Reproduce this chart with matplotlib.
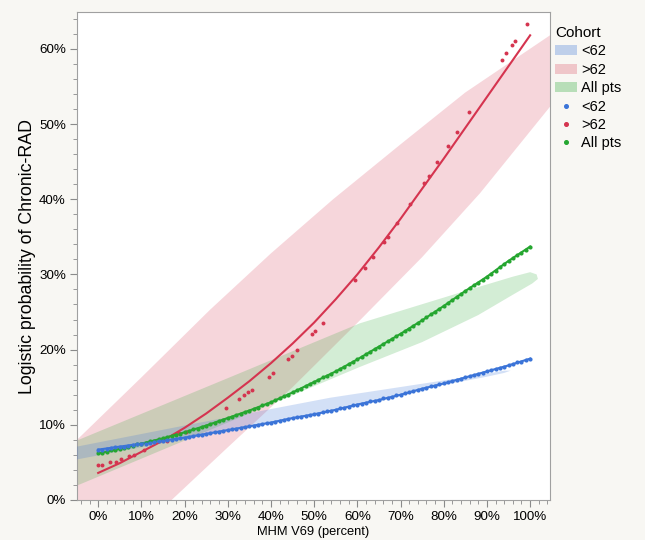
import matplotlib
matplotlib.use("Agg")
import matplotlib.pyplot as plt
from matplotlib.patches import Patch, Rectangle
from matplotlib.lines import Line2D
from matplotlib.ticker import MultipleLocator, FuncFormatter

plt.rcParams["font.family"] = ["Liberation Sans", "DejaVu Sans"]

# fitted curves, read every 5% of MHM V69
fit_x = [0, 5, 10, 15, 20, 25, 30, 35, 40, 45, 50, 55, 60, 65, 70, 75, 80, 85, 90, 95, 100]
fit_lt62 = [6.7, 7.1, 7.5, 7.9, 8.3, 8.8, 9.3, 9.8, 10.3, 10.9, 11.4, 12.0, 12.7, 13.3,
            14.0, 14.8, 15.5, 16.3, 17.1, 17.9, 18.8]
fit_gt62 = [3.6, 4.9, 6.4, 7.9, 9.6, 11.5, 13.6, 15.8, 18.2, 20.8, 23.6, 26.7, 30.0, 33.6,
            37.4, 41.4, 45.4, 49.5, 53.6, 57.7, 61.8]
fit_all = [6.2, 6.8, 7.5, 8.2, 9.0, 9.9, 10.9, 11.9, 13.0, 14.3, 15.7, 17.1, 18.7, 20.4,
           22.1, 23.9, 25.8, 27.8, 29.7, 31.8, 33.7]

# patient points (<62 and all patients sit densely along their curves)
pts_x = [0, 1, 2, 3, 4, 5, 6, 7, 8, 9, 10, 11, 12, 13, 14, 15, 16, 17, 18, 19,
         20, 21, 22, 23, 24, 25, 26, 27, 28, 29, 30, 31, 32, 33, 34, 35, 36, 37, 38, 39,
         40, 41, 42, 43, 44, 45, 46, 47, 48, 49, 50, 51, 52, 53, 54, 55, 56, 57, 58, 59,
         60, 61, 62, 63, 64, 65, 66, 67, 68, 69, 70, 71, 72, 73, 74, 75, 76, 77, 78, 79,
         80, 81, 82, 83, 84, 85, 86, 87, 88, 89, 90, 91, 92, 93, 94, 95, 96, 97, 98, 99, 100]
pts_lt62 = [6.7, 6.7, 6.8, 6.9, 7.0, 7.1, 7.1, 7.2, 7.3, 7.4,
            7.5, 7.5, 7.6, 7.7, 7.8, 7.9, 8.0, 8.0, 8.1, 8.2,
            8.3, 8.4, 8.5, 8.6, 8.7, 8.8, 8.9, 9.0, 9.1, 9.2,
            9.3, 9.4, 9.5, 9.6, 9.7, 9.8, 9.9, 10.0, 10.1, 10.2,
            10.3, 10.4, 10.5, 10.7, 10.8, 10.9, 11.0, 11.1, 11.2, 11.3,
            11.4, 11.5, 11.7, 11.8, 11.9, 12.0, 12.2, 12.3, 12.4, 12.6,
            12.7, 12.8, 12.9, 13.1, 13.2, 13.3, 13.5, 13.6, 13.7, 13.9,
            14.0, 14.2, 14.3, 14.5, 14.6, 14.8, 14.9, 15.1, 15.2, 15.4,
            15.5, 15.7, 15.8, 16.0, 16.1, 16.3, 16.5, 16.6, 16.8, 16.9,
            17.1, 17.3, 17.4, 17.6, 17.7, 17.9, 18.1, 18.3, 18.4, 18.6, 18.8]
pts_all = [6.2, 6.3, 6.4, 6.6, 6.7, 6.8, 6.9, 7.1, 7.2, 7.4,
           7.5, 7.6, 7.8, 7.9, 8.1, 8.2, 8.4, 8.5, 8.7, 8.8,
           9.0, 9.2, 9.4, 9.5, 9.7, 9.9, 10.1, 10.3, 10.5, 10.7,
           10.9, 11.1, 11.3, 11.5, 11.7, 11.9, 12.1, 12.3, 12.6, 12.8,
           13.0, 13.3, 13.5, 13.8, 14.0, 14.3, 14.6, 14.8, 15.1, 15.4,
           15.7, 16.0, 16.3, 16.5, 16.8, 17.1, 17.4, 17.7, 18.1, 18.4,
           18.7, 19.0, 19.4, 19.7, 20.1, 20.4, 20.7, 21.1, 21.4, 21.8,
           22.1, 22.5, 22.8, 23.2, 23.5, 23.9, 24.3, 24.7, 25.0, 25.4,
           25.8, 26.2, 26.6, 27.0, 27.4, 27.8, 28.2, 28.6, 28.9, 29.3,
           29.7, 30.1, 30.5, 31.0, 31.4, 31.8, 32.2, 32.6, 32.9, 33.3, 33.7]
gt62_x = [0.0, 1.0, 2.8, 4.2, 5.2, 7.2, 8.4, 10.5, 15.9, 18.8, 20.3, 29.7, 32.7, 33.8, 34.6,
          35.6, 39.5, 40.5, 43.9, 44.8, 46.0, 49.4, 50.2, 52.0, 59.5, 61.8, 63.7, 66.2,
          67.2, 69.1, 72.2, 75.5, 76.5, 78.5, 80.9, 83.0, 85.8, 93.6, 94.4, 95.8, 96.4, 99.3]
gt62_y = [4.6, 4.7, 5.0, 5.1, 5.4, 5.8, 6.0, 6.6, 7.8, 8.9, 9.0, 12.2, 13.4, 14.0, 14.3,
          14.6, 16.4, 16.9, 18.8, 19.2, 19.9, 22.1, 22.5, 23.6, 29.3, 30.8, 32.3, 34.3,
          35.0, 36.8, 39.4, 42.1, 43.1, 44.9, 47.1, 49.0, 51.6, 58.5, 59.4, 60.5, 61.1, 63.3]

# density ellipse outlines (upper edge left->right, then lower edge right->left)
ell_lt62_x = [-10, -5.8, 20, 53.7, 80, 90, 94, 95.5, 94, 90, 80, 53.7, 20, -5.8, -10]
ell_lt62_y = [6.5, 7.0, 9.9, 13.6, 15.9, 16.8, 17.2, 17.2, 16.9, 16.4, 15.3, 11.7, 8.1, 5.3, 4.8]
ell_gt62_x = [-10, -5.8, 10, 25.9, 40, 54.4, 70, 85, 104.6, 112,
              112, 104.6, 88.4, 75, 60.6, 45, 30, 17, -10]
ell_gt62_y = [5.2, 7.5, 16.3, 25.3, 32.8, 40.0, 47.3, 54.2, 61.8, 64.5,
              57.5, 52.3, 40.8, 32.3, 23.9, 15.0, 7.0, 0, -14]
ell_all_x = [-10, -5.8, 30, 60.6, 85, 96, 100, 101.5, 101.8, 100.5, 96, 88, 75, 60.6, 30, -5.8, -10]
ell_all_y = [6.7, 7.7, 16.2, 23.5, 27.8, 29.7, 30.3, 30.0, 29.4, 28.8, 27.3, 24.6, 21.0, 17.7, 10.3, 1.7, 0.7]

blue = "#3b74d8"
red = "#d5344f"
green = "#25a630"
bg = "#f8f7f3"

fig = plt.figure(figsize=(6.45, 5.48), dpi=100)
fig.patch.set_facecolor("white")
fig.patches.append(Rectangle((0, 8 / 548), 1, 1, transform=fig.transFigure,
                             facecolor=bg, edgecolor="none", zorder=-10))
ax = fig.add_axes([77 / 645, 48 / 548, 473 / 645, 488 / 548])
ax.set_facecolor("white")

ax.fill(ell_gt62_x, ell_gt62_y, color=red, alpha=0.2, lw=0, zorder=1)
ax.fill(ell_all_x, ell_all_y, color=green, alpha=0.2, lw=0, zorder=2)
ax.fill(ell_lt62_x, ell_lt62_y, color=blue, alpha=0.22, lw=0, zorder=3)

ax.plot(fit_x, fit_gt62, color=red, lw=1.5, zorder=4)
ax.plot(fit_x, fit_all, color=green, lw=1.5, zorder=4)
ax.plot(fit_x, fit_lt62, color=blue, lw=1.5, zorder=4)

ax.scatter(gt62_x, gt62_y, s=8, color=red, lw=0, zorder=5)
ax.scatter(pts_x, pts_all, s=9, color=green, lw=0, zorder=5)
ax.scatter(pts_x, pts_lt62, s=9, color=blue, lw=0, zorder=5)

ax.set_xlim(-4.9, 104.6)
ax.set_ylim(0, 64.9)
ax.xaxis.set_major_locator(MultipleLocator(10))
ax.xaxis.set_minor_locator(MultipleLocator(2))
ax.yaxis.set_major_locator(MultipleLocator(10))
ax.yaxis.set_minor_locator(MultipleLocator(2))
pct = FuncFormatter(lambda v, p: f"{v:.0f}%")
ax.xaxis.set_major_formatter(pct)
ax.yaxis.set_major_formatter(pct)
ax.tick_params(which="both", colors="#8a8a8a", labelcolor="black", labelsize=9.6)
ax.tick_params(which="major", length=5, pad=3)
ax.tick_params(which="minor", length=3)
for s in ax.spines.values():
    s.set_color("#a0a0a0")

ax.set_xlabel("MHM V69 (percent)", fontsize=9.3, labelpad=2)
ax.set_ylabel("Logistic probability of Chronic-RAD", fontsize=12.8, labelpad=2)

handles = [
    Patch(facecolor=blue, alpha=0.3, label="<62"),
    Patch(facecolor=red, alpha=0.25, label=">62"),
    Patch(facecolor=green, alpha=0.3, label="All pts"),
    Line2D([], [], ls="none", marker="o", ms=2.6, color=blue, label="<62"),
    Line2D([], [], ls="none", marker="o", ms=2.6, color=red, label=">62"),
    Line2D([], [], ls="none", marker="o", ms=2.6, color=green, label="All pts"),
]
leg = ax.legend(handles=handles, title="Cohort", loc="upper left",
                bbox_to_anchor=(0.995, 0.986), frameon=False, fontsize=10.5,
                title_fontsize=11, handlelength=1.5, handletextpad=0.3,
                labelspacing=0.3, borderaxespad=0.2, borderpad=0.3)
leg._legend_box.align = "left"

fig.savefig("out.png", dpi=100, facecolor=fig.get_facecolor())
